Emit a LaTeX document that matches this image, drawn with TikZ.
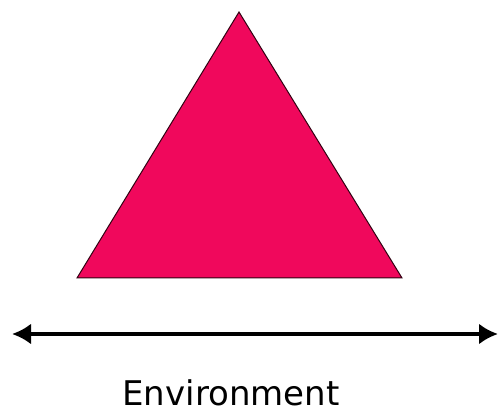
\documentclass[tikz,border=0pt]{standalone}
\usepackage{fontspec}
\setmainfont{DejaVu Sans}
\usetikzlibrary{arrows.meta}
\definecolor{tripink}{RGB}{240,8,92}
\begin{document}
\begin{tikzpicture}[x=1pt,y=-1pt,
  tri/.style={fill=tripink,draw=black!80!tripink,line width=1pt,line join=miter},
  envarrow/.style={line width=4.5pt,{Latex[length=19pt,width=21pt]}-{Latex[length=19pt,width=21pt]}},
  envlabel/.style={anchor=base,inner sep=0pt,text depth=0pt,font=\fontsize{34}{36}\selectfont}]
\useasboundingbox (0,0) rectangle (499,417);
\coordinate (apex) at (239,12);
\coordinate (bl) at (77,278);
\coordinate (br) at (402,278);
\draw[tri] (apex) -- (br) -- (bl) -- cycle;
\coordinate (aL) at (12,334);
\coordinate (aR) at (498,334);
\draw[envarrow] (aL) -- (aR);
\node[envlabel] (env) at (231,406) {Environment};
\end{tikzpicture}
\end{document}
